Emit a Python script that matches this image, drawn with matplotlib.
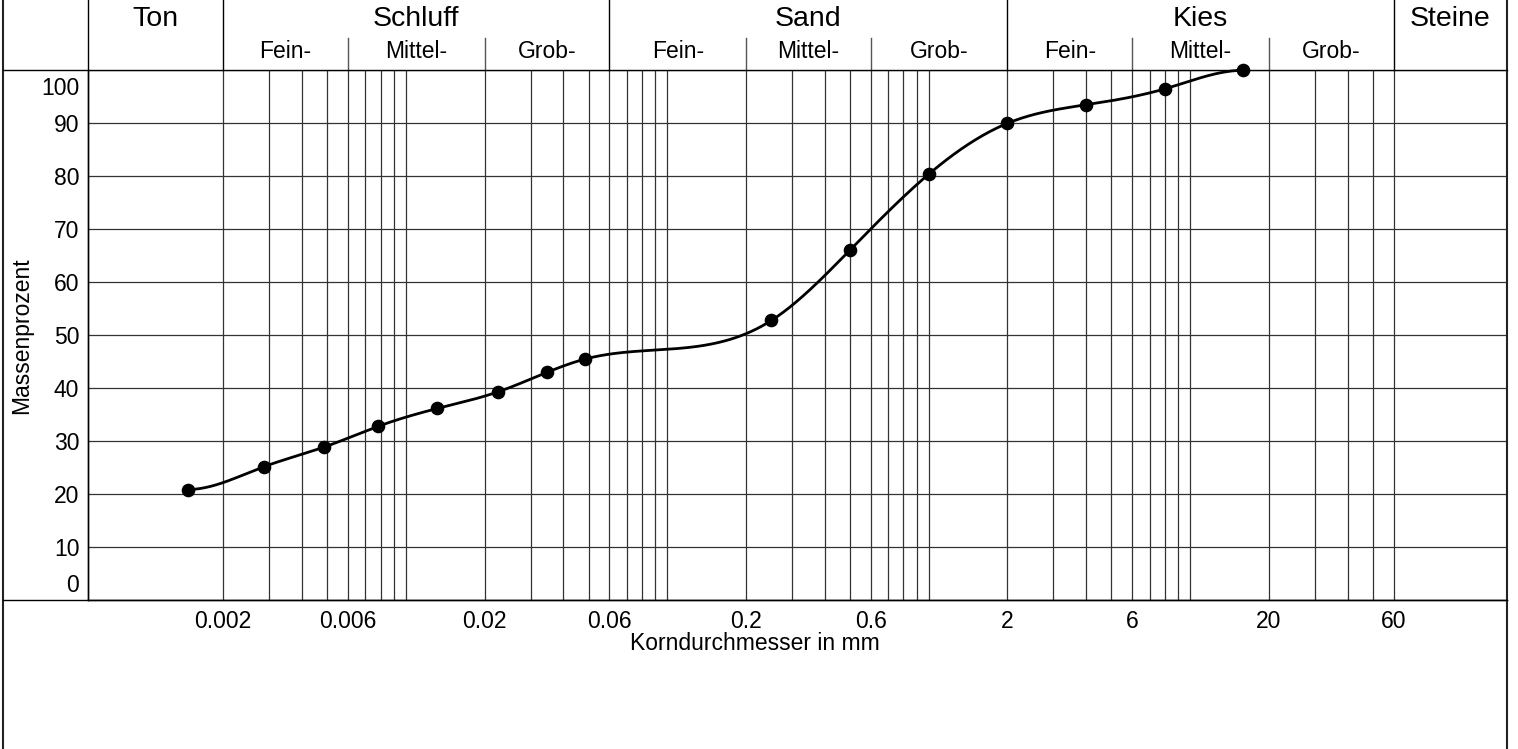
import numpy as np
import matplotlib
matplotlib.use("Agg")
import matplotlib.pyplot as plt
from matplotlib.lines import Line2D
from matplotlib.transforms import ScaledTranslation, blended_transform_factory

plt.rcParams['font.family'] = ['Liberation Sans', 'DejaVu Sans']

# Sieve / hydrometer results: grain diameter (mm) and mass passing (%)
grain_mm = [0.00146, 0.00286, 0.00486, 0.0078, 0.0132, 0.0224, 0.0346, 0.0483,
            0.25, 0.5, 1.0, 2.0, 4.0, 8.0, 16.0]
passing_pct = [20.9, 25.2, 28.9, 32.8, 36.2, 39.3, 43.0, 45.5,
               52.8, 66.1, 80.4, 90.0, 93.5, 96.5, 100.0]

x_tick_values = [0.002, 0.006, 0.02, 0.06, 0.2, 0.6, 2, 6, 20, 60]
x_tick_labels = ['0.002', '0.006', '0.02', '0.06', '0.2', '0.6', '2', '6', '20', '60']
y_tick_values = [0, 10, 20, 30, 40, 50, 60, 70, 80, 90, 100]
y_tick_labels = ['0', '10', '20', '30', '40', '50', '60', '70', '80', '90', '100']

x_min, x_max = 0.000606, 163.0

main_groups = ['Ton', 'Schluff', 'Sand', 'Kies', 'Steine']
main_bounds = [x_min, 0.002, 0.06, 2, 60, x_max]
sub_labels = ['Fein-', 'Mittel-', 'Grob-']
sub_bounds = {
    'Schluff': [0.002, 0.006, 0.02, 0.06],
    'Sand': [0.06, 0.2, 0.6, 2],
    'Kies': [2, 6, 20, 60],
}

# vertical grid: every 1..9 x 10^k between 0.002 and 60 mm
grid_x = []
for dec in [0.001, 0.01, 0.1, 1, 10]:
    for m in range(1, 10):
        v = round(m * dec, 6)
        if 0.002 <= v <= 60:
            grid_x.append(v)


def clamped_spline(x, y, xs, d0=0.0, dn=0.0):
    x = np.asarray(x, float)
    y = np.asarray(y, float)
    n = len(x)
    h = np.diff(x)
    A = np.zeros((n, n))
    r = np.zeros(n)
    A[0, 0], A[0, 1] = 2 * h[0], h[0]
    r[0] = 6 * ((y[1] - y[0]) / h[0] - d0)
    A[-1, -2], A[-1, -1] = h[-1], 2 * h[-1]
    r[-1] = 6 * (dn - (y[-1] - y[-2]) / h[-1])
    for i in range(1, n - 1):
        A[i, i - 1] = h[i - 1]
        A[i, i] = 2 * (h[i - 1] + h[i])
        A[i, i + 1] = h[i]
        r[i] = 6 * ((y[i + 1] - y[i]) / h[i] - (y[i] - y[i - 1]) / h[i - 1])
    M = np.linalg.solve(A, r)
    idx = np.clip(np.searchsorted(x, xs) - 1, 0, n - 2)
    x0, x1 = x[idx], x[idx + 1]
    hh = x1 - x0
    return (M[idx] * (x1 - xs) ** 3 / (6 * hh) + M[idx + 1] * (xs - x0) ** 3 / (6 * hh)
            + (y[idx] / hh - M[idx] * hh / 6) * (x1 - xs)
            + (y[idx + 1] / hh - M[idx + 1] * hh / 6) * (xs - x0))


W_PX, H_PX = 1518, 749
fig = plt.figure(figsize=(W_PX / 100, H_PX / 100), dpi=100)

ax_left, ax_right, ax_top, ax_bottom = 87.7, 1507.0, 70.3, 600.3
ax = fig.add_axes([ax_left / W_PX, 1 - ax_bottom / H_PX,
                   (ax_right - ax_left) / W_PX, (ax_bottom - ax_top) / H_PX])
ax.set_xscale('log')
ax.set_xlim(x_min, x_max)
ax.set_ylim(0, 100)

tick_fs = 16.5
grid_kw = dict(color='#333333', lw=0.9)
ax.set_xticks(grid_x, minor=True)
ax.set_xticks(x_tick_values)
ax.set_xticklabels(x_tick_labels, fontsize=tick_fs)
ax.xaxis.set_minor_formatter(plt.NullFormatter())
ax.set_yticks(y_tick_values)
ax.set_yticklabels(y_tick_labels, fontsize=tick_fs)
ax.tick_params(axis='both', which='both', length=0)
ax.tick_params(axis='x', pad=7)
ax.tick_params(axis='y', pad=6)
ax.grid(True, axis='x', which='both', **grid_kw)
ax.grid(True, axis='y', which='major', **grid_kw)
ax.set_axisbelow(True)

# keep the end labels inside the plotting area
ylabels = ax.get_yticklabels()
ylabels[0].set_transform(ylabels[0].get_transform() + ScaledTranslation(0, 0.17, fig.dpi_scale_trans))
ylabels[-1].set_transform(ylabels[-1].get_transform() + ScaledTranslation(0, -0.16, fig.dpi_scale_trans))

for side in ['top', 'right']:
    ax.spines[side].set_visible(False)
for side in ['left', 'bottom']:
    ax.spines[side].set_color('black')
    ax.spines[side].set_linewidth(1.0)

ax.set_xlabel('Korndurchmesser in mm', fontsize=16.5)
ax.xaxis.set_label_coords((755 - ax_left) / (ax_right - ax_left), -0.0606)
ax.xaxis.label.set_va('top')
ax.set_ylabel('Massenprozent', fontsize=16.5, labelpad=6)

# grading curve
lx = np.log10(grain_mm)
xs = np.linspace(lx[0], lx[-1], 600)
ys = clamped_spline(lx, passing_pct, xs)
ax.plot(10 ** xs, ys, color='black', lw=2.0, zorder=3, clip_on=False)
ax.plot(grain_mm, passing_pct, 'o', color='black', ms=8.8, zorder=4, clip_on=False)

# header with soil classes
hdr = blended_transform_factory(ax.transData, ax.transAxes)
span = ax_bottom - ax_top
top_y = 1 + ax_top / span
for b in main_bounds[1:-1]:
    ax.plot([b, b], [1, top_y], transform=hdr, color='black', lw=1.0, clip_on=False)
main_text_y = (ax_bottom - 18.5) / span
sub_text_y = (ax_bottom - 52) / span
sub_line_y = (ax_bottom - 37.7) / span
for name, lo, hi in zip(main_groups, main_bounds[:-1], main_bounds[1:]):
    ax.text(np.sqrt(lo * hi), main_text_y, name, transform=hdr, ha='center', va='center',
            fontsize=20.5)
    if name in sub_bounds:
        bnds = sub_bounds[name]
        for b in bnds[1:-1]:
            ax.plot([b, b], [1, sub_line_y], transform=hdr, color='#555555', lw=1.0, clip_on=False)
        for lab, a, c in zip(sub_labels, bnds[:-1], bnds[1:]):
            ax.text(np.sqrt(a * c), sub_text_y, lab, transform=hdr, ha='center', va='center',
                    fontsize=16.5)


def fig_line(x0, y0, x1, y1, **kw):
    fig.add_artist(Line2D([x0 / W_PX, x1 / W_PX], [1 - y0 / H_PX, 1 - y1 / H_PX],
                          transform=fig.transFigure, **kw))


# outer frame and full-width rules
fig_line(3.3, 0, 3.3, H_PX, color='#222222', lw=1.5)
fig_line(1507.0, 0, 1507.0, H_PX, color='#222222', lw=1.5)
fig_line(3.3, ax_top, 1507.0, ax_top, color='black', lw=1.0)
fig_line(3.3, ax_bottom, 1507.0, ax_bottom, color='black', lw=1.0)
fig_line(ax_left, 0, ax_left, ax_bottom, color='black', lw=1.0)

fig.savefig('out.png', dpi=100)
